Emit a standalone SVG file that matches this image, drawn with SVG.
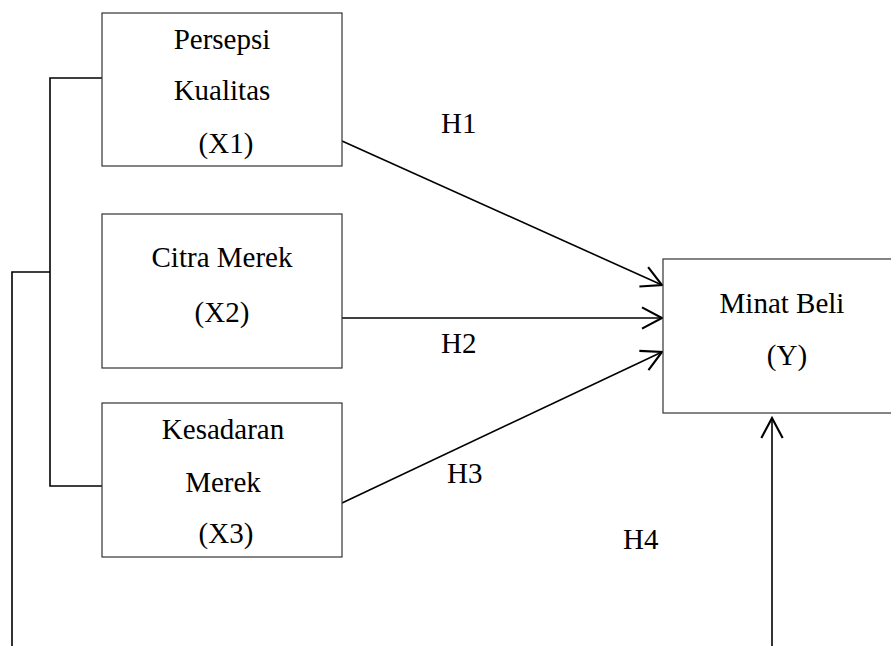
<svg xmlns="http://www.w3.org/2000/svg" width="891" height="646" viewBox="0 0 891 646">
<defs>
<style>
.box{fill:#fff;stroke:#333;stroke-width:1.2}
.ln{fill:none;stroke:#000;stroke-width:1.6}
.t{font-family:"Liberation Serif","Times New Roman",serif;font-size:29px;fill:#000;text-anchor:middle}
.h{font-family:"Liberation Serif","Times New Roman",serif;font-size:29px;fill:#000}
</style>
<marker id="arr" markerUnits="userSpaceOnUse" markerWidth="24" markerHeight="24" viewBox="-16 -9 18 18" refX="0" refY="0" orient="auto">
<path d="M-15,-8 L0,0 L-15,8" fill="none" stroke="#000" stroke-width="1.6"/>
</marker>
</defs>
<rect width="891" height="646" fill="#fff"/>
<g id="connectors">
<polyline class="ln" points="102,78 50,78 50,486 102,486"/>
<polyline class="ln" points="50,272 12,272 12,646"/>
<line class="ln" x1="342" y1="141" x2="662" y2="285" marker-end="url(#arr)"/>
<line class="ln" x1="342" y1="318" x2="662" y2="318" marker-end="url(#arr)"/>
<line class="ln" x1="342" y1="503" x2="662" y2="352" marker-end="url(#arr)"/>
<line class="ln" x1="772" y1="646" x2="772" y2="418" marker-end="url(#arr)"/>
<text class="h" x="441" y="133">H1</text>
<text class="h" x="441" y="353">H2</text>
<text class="h" x="447" y="483">H3</text>
<text class="h" x="623" y="549">H4</text>
</g>
<g id="x1">
<rect class="box" x="102" y="13" width="240" height="153"/>
<text class="t" x="222" y="49">Persepsi</text>
<text class="t" x="222" y="100">Kualitas</text>
<text class="t" x="226" y="153">(X1)</text>
</g>
<g id="x2">
<rect class="box" x="102" y="214" width="240" height="154"/>
<text class="t" x="222" y="267">Citra Merek</text>
<text class="t" x="222" y="322">(X2)</text>
</g>
<g id="x3">
<rect class="box" x="102" y="403" width="240" height="154"/>
<text class="t" x="223" y="439">Kesadaran</text>
<text class="t" x="223" y="492">Merek</text>
<text class="t" x="226" y="543">(X3)</text>
</g>
<g id="y">
<rect class="box" x="663" y="259" width="240" height="154"/>
<text class="t" x="782" y="313">Minat Beli</text>
<text class="t" x="787" y="365">(Y)</text>
</g>
</svg>
